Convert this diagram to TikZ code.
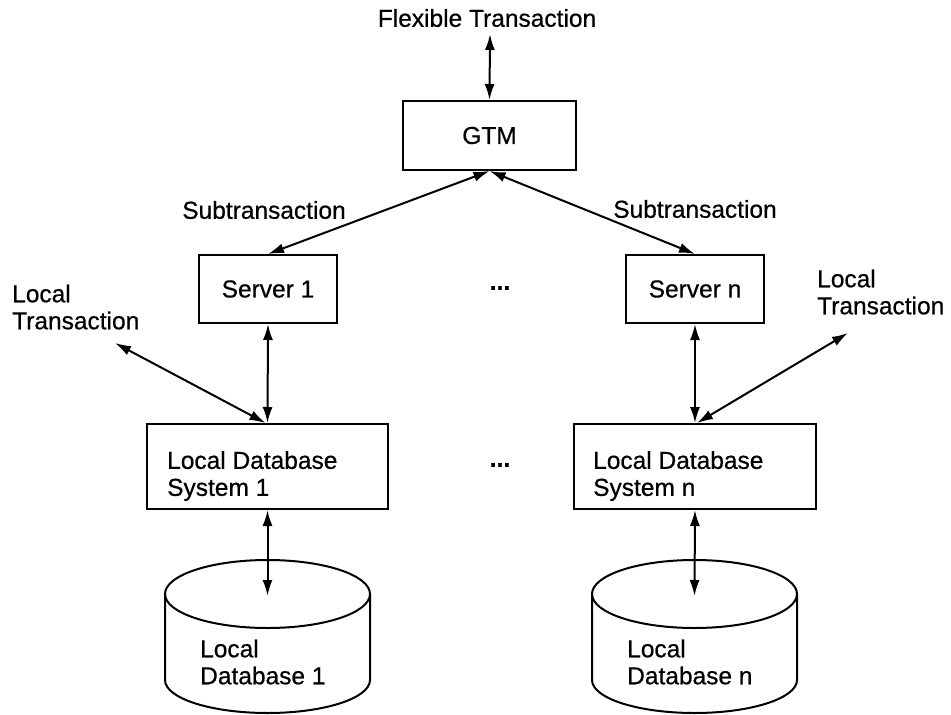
\documentclass[tikz,border=0pt]{standalone}
\usepackage{fontspec}
\setmainfont{Liberation Sans}[FakeBold=0.6]
\newfontfamily\heavy{Liberation Sans}[FakeBold=0.6]
\usetikzlibrary{arrows.meta}
\begin{document}
\begin{tikzpicture}[x=1pt,y=-1pt,
  every node/.style={font=\heavy\fontsize{24.5}{27}\selectfont},
  box/.style={draw, line width=2pt, inner sep=0pt},
  lbl/.style={inner sep=0pt},
  conn/.style={line width=2pt, {Latex[length=16pt,width=10pt]}-{Latex[length=16pt,width=10pt]}},
  cyl/.style={line width=2pt}]
\useasboundingbox (0,0) rectangle (951,715);
\fill[white] (0,0) rectangle (951,715);

% labels
\node[lbl] (flex) at (487,18) {Flexible Transaction};
\node[lbl] (sub1) at (264,210) {Subtransaction};
\node[lbl] (subn) at (695,209) {Subtransaction};
\node[lbl, anchor=west, align=left] (lt1) at (12,307) {Local\\Transaction};
\node[lbl, anchor=west, align=left] (ltn) at (817,292) {Local\\Transaction};
\node[lbl] (dots1) at (500,288) {\bfseries ...};
\node[lbl] (dots2) at (500,465) {\bfseries ...};

% boxes
\node[box, minimum width=173pt, minimum height=69pt] (gtm) at (489.5,135.5) {GTM};
\node[box, minimum width=138pt, minimum height=68pt] (s1) at (268,289) {Server 1};
\node[box, minimum width=138pt, minimum height=68pt] (sn) at (695,289) {Server n};
\node[box, minimum width=241pt, minimum height=85pt] (l1) at (267.5,466.5) {};
\node[lbl, anchor=west, align=left] (l1t) at (167,476) {Local Database\\System 1};
\node[box, minimum width=242pt, minimum height=85pt] (ln) at (695,466.5) {};
\node[lbl, anchor=west, align=left] (lnt) at (593,476) {Local Database\\System n};

% cylinders
\draw[cyl] (165,594) arc[start angle=180, end angle=-180, x radius=102.5, y radius=34];
\draw[cyl] (165,594) -- (165,680) arc[start angle=180, end angle=0, x radius=102.5, y radius=33] -- (370,594);
\coordinate (d1) at (267.5,596);
\node[lbl, anchor=west, align=left] (d1t) at (200,662) {Local\\Database 1};

\draw[cyl] (592,594) arc[start angle=180, end angle=-180, x radius=102.5, y radius=34];
\draw[cyl] (592,594) -- (592,680) arc[start angle=180, end angle=0, x radius=102.5, y radius=33] -- (797,594);
\coordinate (dn) at (694.5,596);
\node[lbl, anchor=west, align=left] (dnt) at (627,662) {Local\\Database n};

% free ends
\coordinate (ft) at (490,34);
\coordinate (lte1) at (115,343);
\coordinate (lten) at (848,333);

% connectors
\draw[conn] (ft) -- (gtm.north);
\draw[conn] (gtm.south) -- (s1.north);
\draw[conn] (gtm.south) -- (sn.north);
\draw[conn] (s1.south) -- (l1.north);
\draw[conn] (sn.south) -- (ln.north);
\draw[conn] (lte1) -- ([xshift=-2pt]l1.north);
\draw[conn] (lten) -- ([xshift=2pt]ln.north);
\draw[conn] (l1.south) -- (d1);
\draw[conn] (ln.south) -- (dn);
\end{tikzpicture}
\end{document}
